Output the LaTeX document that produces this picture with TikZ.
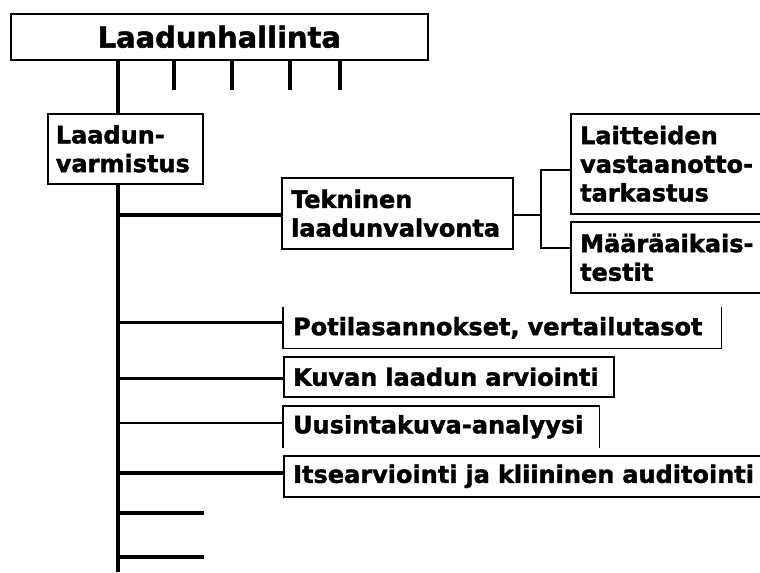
\documentclass[tikz,border=0pt]{standalone}
\usepackage{fontspec}
\setmainfont{DejaVu Sans}[BoldFeatures={FakeBold=1.6}]
\begin{document}
\begin{tikzpicture}[x=0.75pt,y=-0.75pt,
  box/.style={draw,line width=1.2pt,anchor=north west,inner xsep=7pt,inner ysep=0pt,align=left,font=\bfseries\fontsize{18}{21.5}\selectfont},
  open/.style={box,draw=none},
  bar/.style={line width=2.4pt},
  thinbar/.style={line width=1.1pt},
  fatbar/.style={line width=3pt},
  forkbar/.style={line width=1.6pt},
  edge/.style={line width=1.2pt}]
\useasboundingbox (0,0) rectangle (760,572);
\node[box,align=center,minimum width=312.75pt,minimum height=34.5pt,font=\bfseries\fontsize{21.7}{26}\selectfont] (top) at (10,13) {Laadunhallinta};
\node[box,inner xsep=6pt,text width=104.25pt,minimum height=52.5pt] (lv) at (47,113) {Laadun-\\varmistus};
\node[box,text width=159.25pt,minimum height=53.25pt] (tek) at (281,177) {Tekninen\\laadunvalvonta};
\node[box,text width=150pt,minimum height=75pt] (lait) at (570,113) {Laitteiden\\vastaanotto-\\tarkastus};
\node[box,text width=150pt,minimum height=53.25pt] (maar) at (570,221) {Määräaikais-\\testit};
\node[open,text width=313.75pt,minimum height=30pt] (pot) at (283,307) {Potilasannokset, vertailutasot};
\node[box,text width=233.5pt,minimum height=30pt] (kuv) at (283,356) {Kuvan laadun arviointi};
\node[open,text width=222.25pt,minimum height=30pt] (uus) at (283,406) {Uusintakuva-analyysi};
\node[box,text width=353.5pt,minimum height=30.75pt] (its) at (283,455) {Itsearviointi ja kliininen auditointi};
% boxes with a missing side
\draw[edge] (pot.north west) |- (pot.south east) -- (pot.north east);
\draw[edge] (uus.south west) -- (uus.north west) -- (uus.north east) -- (uus.south east);
% spine
\coordinate (sp) at (118,0);
\coordinate (end) at (118,572);
\coordinate (s1) at (204,513);
\coordinate (s2) at (204,557);
\coordinate (fork) at (541,215);
\draw[bar] (top.south -| sp) -- (lv.north -| sp);
\draw[bar] (lv.south -| sp) -- (end);
\foreach \x in {174,232,290,340}
  \draw[bar] (top.south -| \x,0) -- (\x,90);
\draw[bar] (sp |- fork) -- (tek.west |- fork);
\draw[bar] (sp |- pot.west) ++(0,-5) coordinate (p1) -- (pot.west |- p1);
\draw[bar] (sp |- kuv.west) ++(0,2) coordinate (k1) -- (kuv.west |- k1);
\draw[thinbar] (sp |- uus.west) ++(0,-4) coordinate (u1) -- (uus.west |- u1);
\draw[fatbar] (sp |- its.west) ++(0,-3) coordinate (i1) -- (its.west |- i1);
\draw[fatbar] (sp |- s1) -- (s1);
\draw[fatbar] (sp |- s2) -- (s2);
% fork to the tests
\draw[forkbar] (tek.east |- fork) -- (fork);
\draw[forkbar] (lait.west |- 0,170) -| (fork) |- (maar.west |- 0,248);
\end{tikzpicture}
\end{document}
